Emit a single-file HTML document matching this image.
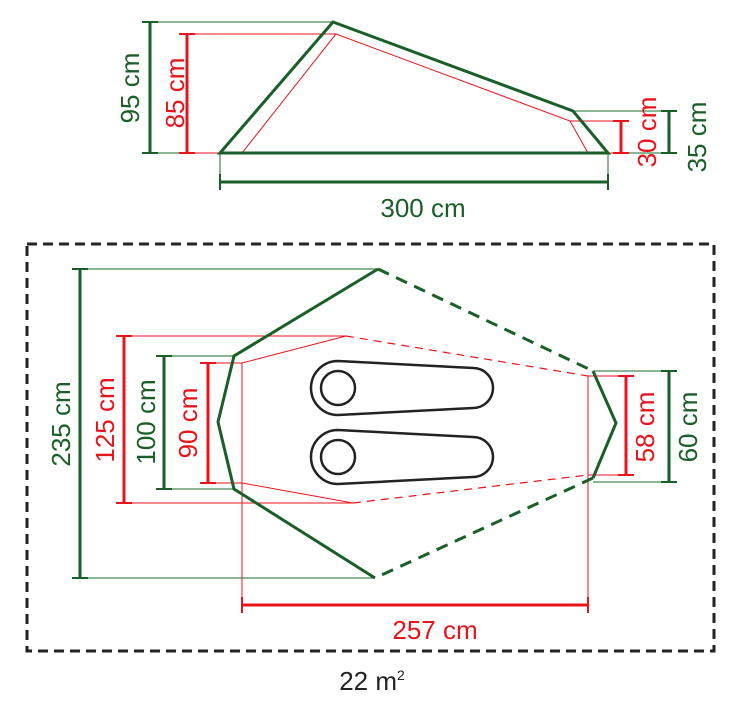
<!DOCTYPE html>
<html><head><style>body{margin:0;background:#fff}svg{display:block}text{font-family:"Liberation Sans",sans-serif}</style></head><body>
<svg width="740" height="711" viewBox="0 0 740 711" xmlns="http://www.w3.org/2000/svg">
<g fill="none">
<!-- top view -->
<g stroke="#1a6b2a" stroke-width="1">
<line x1="150" y1="22" x2="333" y2="22"/><line x1="150" y1="153" x2="220" y2="153"/>
<line x1="573" y1="111" x2="677" y2="111"/><line x1="608" y1="153" x2="677" y2="153"/>
<line x1="220" y1="153" x2="220" y2="188"/><line x1="608" y1="153" x2="608" y2="188"/>
</g>
<g stroke="#e8141c" stroke-width="1">
<line x1="183" y1="34" x2="336" y2="34"/><line x1="183" y1="153" x2="242" y2="153"/>
<line x1="570" y1="121" x2="628" y2="121"/><line x1="588" y1="153" x2="628" y2="153"/>
<polyline points="242,153 336,34 570,121 588,153"/>
</g>
<polygon points="220,153 333,22 573,111 608,153" stroke="#1a5e28" stroke-width="3"/>
<g stroke="#1a5e28" stroke-width="3">
<line x1="150" y1="22" x2="150" y2="153"/><line x1="669" y1="111" x2="669" y2="153"/>
<line x1="220" y1="182" x2="608" y2="182"/>
</g>
<g stroke="#1a5e28" stroke-width="2">
<line x1="142" y1="22" x2="158" y2="22"/><line x1="142" y1="153" x2="158" y2="153"/>
<line x1="661" y1="111" x2="677" y2="111"/><line x1="661" y1="153" x2="677" y2="153"/>
<line x1="220" y1="174" x2="220" y2="190"/><line x1="608" y1="174" x2="608" y2="190"/>
</g>
<g stroke="#e8141c" stroke-width="3">
<line x1="187" y1="34" x2="187" y2="153"/><line x1="621" y1="121" x2="621" y2="153"/>
</g>
<g stroke="#e8141c" stroke-width="2">
<line x1="179" y1="34" x2="195" y2="34"/><line x1="179" y1="153" x2="195" y2="153"/>
<line x1="613" y1="121" x2="629" y2="121"/><line x1="613" y1="153" x2="629" y2="153"/>
</g>
<!-- bottom view -->
<rect x="27" y="244" width="687" height="407" stroke="#222" stroke-width="3" stroke-dasharray="10,6"/>
<g stroke="#1a6b2a" stroke-width="1">
<line x1="72" y1="269" x2="378" y2="269"/><line x1="72" y1="578" x2="375" y2="578"/>
<line x1="156" y1="356" x2="234" y2="356"/><line x1="156" y1="489" x2="234" y2="489"/>
<line x1="593" y1="371" x2="677" y2="371"/><line x1="593" y1="482" x2="677" y2="482"/>
</g>
<g stroke="#e8141c" stroke-width="1">
<line x1="116" y1="336" x2="346" y2="336"/><line x1="116" y1="503" x2="353" y2="503"/>
<line x1="200" y1="363" x2="242" y2="363"/><line x1="200" y1="483" x2="242" y2="483"/>
<line x1="588" y1="376" x2="634" y2="376"/><line x1="588" y1="475" x2="634" y2="475"/>
<line x1="242" y1="363" x2="242" y2="612"/><line x1="588" y1="376" x2="588" y2="612"/>
<polyline points="346,336 242,363 242,483 353,503"/>
</g>
<g stroke="#e8141c" stroke-width="1.2" stroke-dasharray="8,6">
<line x1="346" y1="336" x2="588" y2="376"/><line x1="353" y1="503" x2="588" y2="475"/>
</g>
<polyline points="378,269 234,356 218,422 234,489 375,578" stroke="#1a5e28" stroke-width="3"/>
<polyline points="593,371 616,423 593,478" stroke="#1a5e28" stroke-width="3"/>
<g stroke="#1a5e28" stroke-width="3" stroke-dasharray="12,8">
<line x1="378" y1="269" x2="593" y2="371"/><line x1="593" y1="478" x2="375" y2="578"/>
</g>
<g stroke="#222" stroke-width="2.5">
<path d="M338,361 L473,368 A20,20 0 0 1 473,408 L338,415 A27,27 0 0 1 338,361 Z"/>
<circle cx="338" cy="388" r="17"/>
<path d="M338,430 L473,437 A20,20 0 0 1 473,477 L338,484 A27,27 0 0 1 338,430 Z"/>
<circle cx="338" cy="457" r="17"/>
</g>
<g stroke="#1a5e28" stroke-width="3">
<line x1="80" y1="269" x2="80" y2="578"/><line x1="164" y1="356" x2="164" y2="489"/><line x1="669" y1="371" x2="669" y2="482"/>
</g>
<g stroke="#1a5e28" stroke-width="2">
<line x1="72" y1="269" x2="88" y2="269"/><line x1="72" y1="578" x2="88" y2="578"/>
<line x1="156" y1="356" x2="172" y2="356"/><line x1="156" y1="489" x2="172" y2="489"/>
<line x1="661" y1="371" x2="677" y2="371"/><line x1="661" y1="482" x2="677" y2="482"/>
</g>
<g stroke="#e8141c" stroke-width="3">
<line x1="124" y1="336" x2="124" y2="503"/><line x1="208" y1="363" x2="208" y2="483"/><line x1="626" y1="376" x2="626" y2="475"/>
<line x1="242" y1="605" x2="588" y2="605"/>
</g>
<g stroke="#e8141c" stroke-width="2">
<line x1="116" y1="336" x2="132" y2="336"/><line x1="116" y1="503" x2="132" y2="503"/>
<line x1="200" y1="363" x2="216" y2="363"/><line x1="200" y1="483" x2="216" y2="483"/>
<line x1="618" y1="376" x2="634" y2="376"/><line x1="618" y1="475" x2="634" y2="475"/>
<line x1="242" y1="597" x2="242" y2="613"/><line x1="588" y1="597" x2="588" y2="613"/>
</g>
</g>
<g font-size="26">
<text fill="#1a5e28" transform="translate(139,88) rotate(-90)" text-anchor="middle">95 cm</text>
<text fill="#e8141c" transform="translate(184,93) rotate(-90)" text-anchor="middle">85 cm</text>
<text fill="#e8141c" transform="translate(656,132) rotate(-90)" text-anchor="middle">30 cm</text>
<text fill="#1a5e28" transform="translate(706,137) rotate(-90)" text-anchor="middle">35 cm</text>
<text fill="#1a5e28" x="423" y="217" text-anchor="middle">300 cm</text>
<text fill="#1a5e28" transform="translate(70,424) rotate(-90)" text-anchor="middle">235 cm</text>
<text fill="#e8141c" transform="translate(114,420) rotate(-90)" text-anchor="middle">125 cm</text>
<text fill="#1a5e28" transform="translate(155,422) rotate(-90)" text-anchor="middle">100 cm</text>
<text fill="#e8141c" transform="translate(197,423) rotate(-90)" text-anchor="middle">90 cm</text>
<text fill="#e8141c" transform="translate(654,427) rotate(-90)" text-anchor="middle">58 cm</text>
<text fill="#1a5e28" transform="translate(697,427) rotate(-90)" text-anchor="middle">60 cm</text>
<text fill="#e8141c" x="435" y="639" text-anchor="middle">257 cm</text>
<text fill="#222" x="372" y="690" text-anchor="middle">22 m<tspan font-size="14" dy="-10">2</tspan></text>
</g>
</svg>
</body></html>
